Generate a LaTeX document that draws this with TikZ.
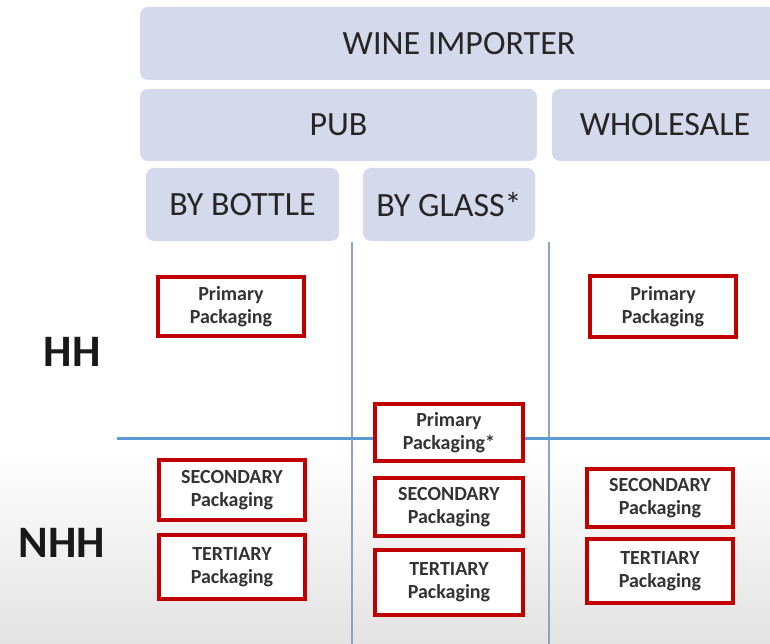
\documentclass[tikz,border=0pt]{standalone}
\usepackage{fontspec}
\setmainfont{Carlito}
\definecolor{hdrfill}{HTML}{D5D9EC}
\definecolor{hdrtext}{HTML}{262626}
\definecolor{pkred}{HTML}{C00000}
\definecolor{pktext}{HTML}{333333}
\definecolor{vline}{HTML}{8FA3C2}
\definecolor{hline}{HTML}{5B9BD5}
\tikzset{
  hdr/.style={fill=hdrfill, rounded corners=8pt, inner sep=0pt, text=hdrtext,
    font=\fontsize{34}{40}\selectfont, anchor=center},
  pk/.style={draw=pkred, line width=3.8pt, fill=white, inner sep=0pt, align=center,
    text=pktext, font=\bfseries\fontsize{20}{23}\selectfont, anchor=center},
  lvl/.style={font=\bfseries\fontsize{45}{50}\selectfont, text=black!90, anchor=center},
}
\begin{document}
\begin{tikzpicture}[x=1pt,y=-1pt]
\useasboundingbox (0,0) rectangle (770,644);
\clip (0,0) rectangle (770,644);
\fill[white] (0,0) rectangle (770,644);
\shade[top color=white, bottom color=gray!22] (0,448) rectangle (770,644);

% header boxes
\node[hdr, minimum width=638pt, minimum height=73pt] (wi) at (459,43.5) {WINE IMPORTER};
\node[hdr, minimum width=397pt, minimum height=72pt] (pub) at (338.5,125) {PUB};
\node[hdr, minimum width=226pt, minimum height=72pt] (wh) at (665,125) {WHOLESALE};
\node[hdr, minimum width=193pt, minimum height=73pt] (bb) at (242.5,204.5) {BY BOTTLE};
\node[hdr, minimum width=172pt, minimum height=73pt] (bg) at (449,204.5) {BY GLASS*};

% divider lines
\coordinate (v1t) at (352,242); \coordinate (v1b) at (352,644);
\coordinate (v2t) at (549,242); \coordinate (v2b) at (549,644);
\draw[vline, line width=1.3pt] (v1t) -- (v1b);
\draw[vline, line width=1.3pt] (v2t) -- (v2b);
\coordinate (hl) at (117,438); \coordinate (hr) at (770,438);
\draw[hline, line width=3pt] (hl) -- (hr);

% level labels
\node[lvl] (hh) at (72,352) {HH};
\node[lvl] (nhh) at (62,543) {NHH};

% packaging boxes
\node[pk, minimum width=146.2pt, minimum height=59.2pt] (p1) at (231,306.5) {Primary\\Packaging};
\node[pk, minimum width=146.2pt, minimum height=61.2pt] (p2) at (663,306.5) {Primary\\Packaging};
\node[pk, minimum width=148.2pt, minimum height=57.2pt] (p3) at (449,432.5) {Primary\\Packaging*};
\node[pk, minimum width=146.2pt, minimum height=60.2pt] (s1) at (232,490) {SECONDARY\\Packaging};
\node[pk, minimum width=146.2pt, minimum height=64.2pt] (t1) at (232,567) {TERTIARY\\Packaging};
\node[pk, minimum width=148.2pt, minimum height=58.2pt] (s2) at (449,507) {SECONDARY\\Packaging};
\node[pk, minimum width=148.2pt, minimum height=65.2pt] (t2) at (449,582.5) {TERTIARY\\Packaging};
\node[pk, minimum width=146.2pt, minimum height=58.2pt] (s3) at (660,498) {SECONDARY\\Packaging};
\node[pk, minimum width=146.2pt, minimum height=64.2pt] (t3) at (660,571) {TERTIARY\\Packaging};
\end{tikzpicture}
\end{document}
